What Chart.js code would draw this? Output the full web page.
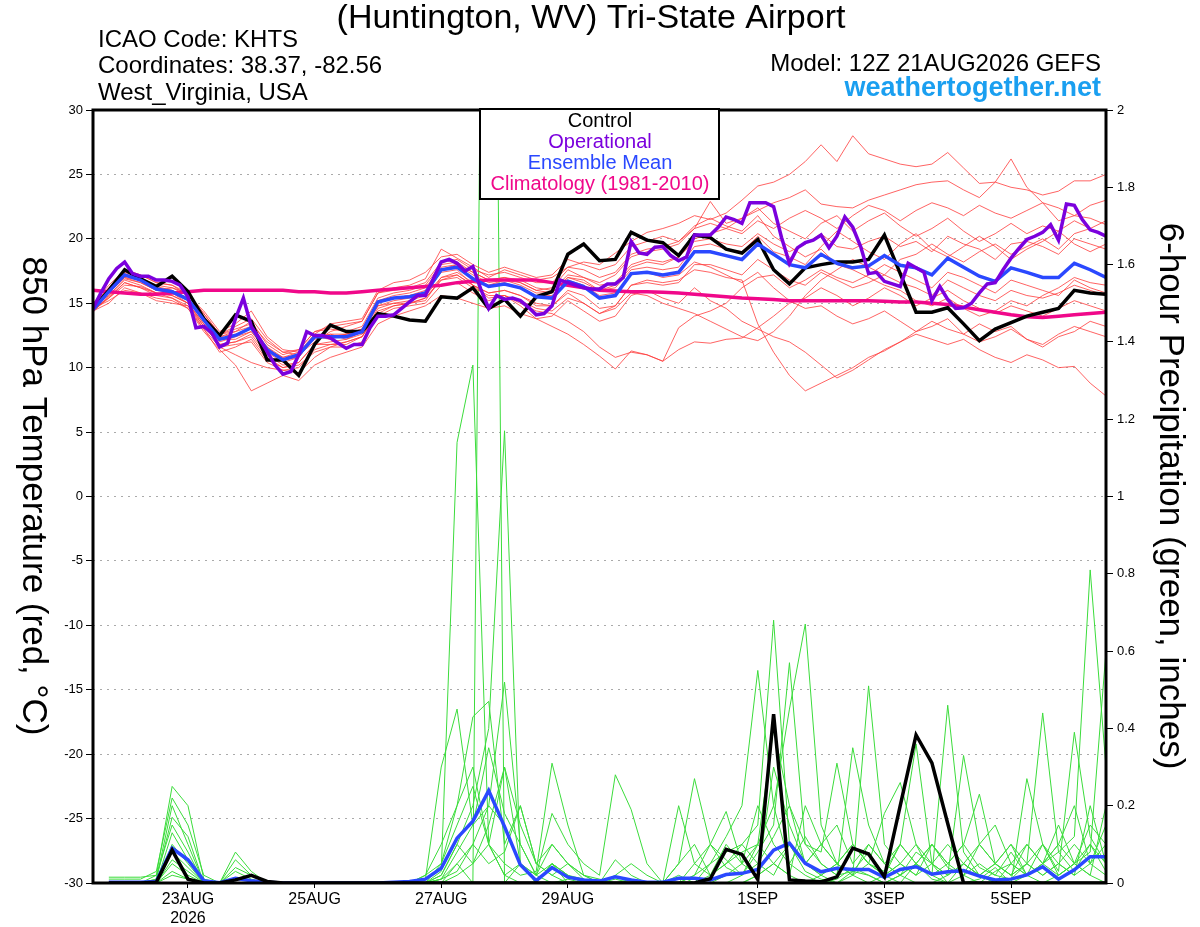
<!DOCTYPE html>
<html>
<head>
<meta charset="utf-8">
<script src="https://cdn.jsdelivr.net/npm/chart.js@4.4.1/dist/chart.umd.min.js"></script>
<style>
  html, body { margin: 0; padding: 0; background: #fff; }
  #wrap { width: 1200px; height: 927px; }
</style>
</head>
<body>
<div id="wrap"><canvas id="meteogram" width="1200" height="927"></canvas></div>
<script>
// x axis: forecast hour from 12Z 21AUG2026
var tickHours = [36, 84, 132, 180, 252, 300, 348];
var tickLabels = ["23AUG", "25AUG", "27AUG", "29AUG", "1SEP", "3SEP", "5SEP"];
var yearLabel = "2026";

// 850 hPa temperature, 6-hourly (control, mean, climatology)
var ctlTemp = [14.6,16.0,17.6,16.9,16.3,17.1,15.9,13.8,12.5,14.1,
  13.6,10.6,10.6,9.4,11.8,13.3,12.8,12.8,14.2,14.0,
  13.7,13.6,15.5,15.4,16.2,14.6,15.3,14.0,15.5,15.9,
  18.8,19.6,18.3,18.4,20.5,19.9,19.7,18.7,20.3,20.1,
  19.2,18.9,19.95,17.6,16.5,17.75,18.0,18.2,18.2,18.4,
  20.3,17.3,14.3,14.3,14.65,13.4,12.1,13.0,13.5,14.0,
  14.3,14.6,16.0,15.8,15.7];
var meanTemp = [14.5,15.9,17.2,16.8,16.1,15.9,15.3,13.7,12.2,12.5,
  13.1,11.4,10.6,11.0,12.4,12.4,12.4,12.8,15.1,15.4,
  15.5,15.8,17.6,17.8,16.9,16.3,16.5,16.2,15.5,15.4,
  16.7,16.3,15.4,15.6,17.3,17.4,17.2,17.4,19.0,19.0,
  18.7,18.4,19.6,18.8,18.0,17.75,18.8,18.1,17.75,17.9,
  18.7,17.95,17.75,17.2,18.5,17.8,17.1,16.7,17.75,17.4,
  17.0,17.0,18.1,17.6,17.0];
var climTemp = [16.0,15.9,15.8,15.7,15.7,15.8,15.9,16.0,16.0,16.0,
  16.0,16.0,16.0,15.9,15.9,15.8,15.8,15.9,16.0,16.1,
  16.2,16.3,16.4,16.6,16.7,16.8,16.8,16.8,16.8,16.6,
  16.4,16.2,16.0,15.95,15.9,15.9,15.85,15.8,15.7,15.6,
  15.5,15.4,15.35,15.3,15.2,15.2,15.2,15.2,15.2,15.2,
  15.15,15.1,15.1,15.0,14.9,14.7,14.5,14.3,14.1,13.95,
  13.9,14.0,14.1,14.2,14.3];

// operational run, 3-hourly
var opTemp = [14.6,15.8,16.9,17.7,18.2,17.3,17.1,17.1,16.8,16.8,
  16.7,16.4,15.5,13.1,13.2,12.7,11.6,11.9,13.8,15.4,
  13.2,12.3,11.25,10.2,9.5,9.7,11.0,12.8,12.5,12.5,
  12.3,11.9,11.5,11.8,11.8,13.1,14.0,14.0,14.1,14.6,
  15.1,15.6,15.6,16.9,18.2,18.4,18.1,17.5,17.85,16.1,
  14.6,15.6,15.3,15.4,15.2,14.7,14.1,14.2,14.8,16.8,
  16.6,16.4,16.2,16.1,16.1,16.5,16.5,17.0,19.8,18.9,
  18.8,19.35,19.4,18.7,18.3,18.6,20.3,20.3,20.3,20.9,
  21.7,21.5,21.2,22.8,22.8,22.8,22.5,20.1,18.1,19.3,
  19.7,19.9,20.3,19.3,20.2,21.7,20.9,19.4,17.3,17.4,
  16.7,16.5,16.3,18.1,17.75,17.4,15.2,16.3,15.3,14.6,
  14.65,15.0,15.8,16.5,16.6,17.6,18.5,19.25,19.95,20.2,
  20.5,21.1,19.9,22.7,22.6,21.5,20.7,20.5,20.2];

// 6-hour precipitation (inches), first step has no accumulation
var ctlPrecip = [null,0,0,0,0.002,0.085,0.01,0,0,0.008,
  0.02,0.004,0,0,0,0,0,0,0,0,
  0,0,0,0,0,0,0,0,0,0,
  0,0,0,0,0,0,0,0,0,0.011,
  0.087,0.074,0.009,0.437,0.008,0.005,0.003,0.016,0.09,0.075,
  0.016,0.2,0.383,0.311,0.154,0,0,0,0,0,
  0,0,0,0,0];
var meanPrecip = [null,0.002,0.002,0.002,0.004,0.09,0.06,0.006,0.001,0.012,
  0.006,0.002,0,0,0,0,0,0,0,0.002,
  0.004,0.01,0.038,0.116,0.16,0.239,0.146,0.047,0.006,0.04,
  0.015,0.008,0.005,0.016,0.008,0.002,0.002,0.012,0.012,0.008,
  0.022,0.025,0.035,0.085,0.103,0.051,0.029,0.038,0.035,0.035,
  0.015,0.035,0.042,0.023,0.029,0.032,0.018,0.008,0.01,0.021,
  0.042,0.01,0.034,0.068,0.068];

// ensemble members, temperature
var t01 = [14.8,15.6,16.9,16.6,16.0,16.2,15.6,14.2,12.6,13.0,13.4,12.0,11.2,11.0,12.0,12.8,13.2,13.6,15.8,16.2,
  16.4,16.9,19.2,18.5,17.8,17.0,17.6,17.2,16.8,17.0,17.8,18.2,18.0,18.9,19.8,20.5,20.8,21.2,21.8,21.5,
  22.0,23.0,24.1,24.4,25.0,26.0,27.3,26.0,28.0,26.6,26.2,25.8,25.6,25.8,26.7,25.5,24.3,24.4,24.0,23.8,
  23.4,23.7,24.5,24.5,25.0];
var t02 = [14.6,15.4,16.4,16.3,15.8,15.6,15.0,13.2,11.8,12.0,12.6,11.0,10.2,10.4,11.8,12.0,12.2,12.6,14.8,15.0,
  15.2,15.6,17.0,17.4,16.6,16.4,16.8,16.6,16.0,16.2,17.6,17.0,16.6,17.2,18.6,19.0,19.2,19.6,20.8,22.9,
  21.2,21.6,22.2,22.8,23.2,23.8,22.7,22.5,22.4,23.0,23.4,23.8,24.2,24.4,24.5,23.8,23.2,24.4,26.2,24.0,
  22.8,21.4,21.8,21.6,21.1];
var t03 = [14.4,15.0,16.2,15.8,15.4,15.2,14.6,12.8,11.4,10.2,8.2,8.8,9.4,9.0,10.2,10.8,11.2,11.6,13.4,14.0,
  14.4,14.8,15.6,15.4,15.0,14.6,14.8,14.2,13.8,14.0,15.2,14.4,13.6,14.0,15.6,16.0,15.4,15.0,16.2,15.2,
  14.6,13.6,13.0,12.4,12.0,11.2,10.2,9.2,9.8,10.6,11.4,12.0,12.6,12.2,11.8,12.2,11.4,10.8,10.4,11.0,
  10.6,10.0,10.1,8.8,7.8];
var t04 = [14.6,15.2,16.0,15.8,15.2,15.0,14.8,13.0,11.6,11.0,10.4,10.0,9.8,9.6,10.8,11.6,12.0,12.4,14.2,14.8,
  15.0,15.4,16.8,17.2,16.4,15.8,16.0,15.6,15.0,14.8,15.8,15.0,14.2,14.8,16.4,16.8,16.6,16.8,17.6,17.4,
  17.0,16.8,13.4,11.2,9.4,8.2,8.8,9.4,10.0,10.8,11.3,12.0,12.8,13.6,13.0,12.6,13.4,12.8,13.2,12.2,
  11.6,12.4,12.8,13.6,13.2];
var t05 = [14.5,16.0,17.4,17.0,16.4,16.2,15.8,14.2,12.6,12.8,13.6,11.8,11.0,11.4,12.8,13.0,12.8,13.2,15.4,15.8,
  16.0,16.4,18.0,18.2,17.4,16.8,17.0,16.8,16.2,16.0,17.2,17.0,16.4,16.6,18.0,18.4,18.2,18.6,19.8,20.0,
  19.6,19.4,20.4,19.6,19.0,19.6,20.4,19.4,19.2,19.8,20.2,19.4,19.8,19.0,20.2,19.6,19.2,18.4,19.6,19.8,
  19.4,18.8,20.0,19.6,19.2];
var t06 = [14.3,15.6,16.8,16.4,15.8,15.4,14.8,13.2,11.8,12.0,12.4,10.8,10.0,10.4,11.8,11.8,11.8,12.4,14.6,15.0,
  15.0,15.2,17.0,17.2,16.4,15.8,16.0,15.6,14.8,14.8,16.0,15.6,14.6,14.8,16.4,16.6,16.4,16.6,18.0,18.0,
  17.6,17.2,18.4,17.6,16.8,16.4,17.4,16.8,16.2,16.6,17.2,16.6,16.2,15.6,16.8,16.2,15.6,15.2,16.0,15.6,
  15.4,15.8,16.4,16.0,15.6];
var t07 = [15.0,16.4,17.6,17.2,16.6,16.4,15.6,14.4,12.8,13.4,14.4,12.4,11.4,11.2,12.6,13.4,13.6,13.8,16.0,16.6,
  16.8,17.4,18.6,18.8,18.0,17.4,17.8,17.4,17.0,17.2,18.4,18.0,17.6,18.0,19.4,19.8,20.2,19.8,21.0,21.6,
  21.0,20.6,21.8,20.2,19.4,18.6,19.2,18.0,17.6,17.0,16.4,16.0,15.2,14.8,15.4,14.6,14.0,14.4,15.2,14.8,
  15.6,16.2,17.0,16.6,16.4];
var t08 = [14.7,15.8,17.0,16.6,16.0,15.8,15.2,13.6,12.0,12.4,12.8,11.4,10.8,11.2,12.2,12.6,12.2,12.8,14.8,15.2,
  15.4,15.8,17.4,17.6,16.4,15.4,15.6,14.8,13.8,13.2,12.6,11.8,10.9,9.9,11.3,11.0,10.5,13.1,14.0,14.4,
  15.0,16.2,17.0,17.2,16.2,16.8,17.6,17.0,16.6,17.2,18.0,17.4,16.8,16.2,17.4,17.0,16.4,15.8,16.8,16.4,
  16.0,15.6,16.8,16.2,15.8];
var t09 = [14.4,15.4,16.6,16.2,15.6,15.4,14.6,13.0,11.2,11.6,12.2,10.6,10.0,10.2,11.2,11.6,11.6,12.0,14.0,14.6,
  14.8,15.0,16.4,16.6,15.8,15.2,15.6,15.2,14.6,14.4,15.4,15.0,14.2,14.6,15.8,15.6,15.0,14.6,14.2,13.6,
  13.0,12.4,12.1,12.8,14.0,15.6,16.8,17.6,18.4,17.8,17.2,18.4,18.8,19.6,18.8,18.2,19.0,19.6,18.8,19.4,
  20.0,19.2,20.4,20.8,21.4];
var t10 = [14.9,16.2,17.2,16.8,16.2,16.0,15.4,13.8,12.4,12.8,13.2,11.6,10.6,10.8,12.4,12.6,12.6,13.0,15.2,15.4,
  15.6,16.0,17.6,18.0,17.2,16.6,16.8,16.4,15.8,15.8,17.0,16.6,16.0,16.4,17.8,18.2,18.0,18.6,20.0,20.4,
  20.8,21.6,22.4,21.2,20.6,20.0,21.2,21.8,20.6,21.4,22.0,21.0,20.2,20.8,21.6,20.6,19.8,20.4,21.2,20.4,
  21.0,20.6,21.4,20.8,20.2];
var t11 = [14.6,15.8,17.0,16.8,16.2,15.8,15.0,13.4,12.2,12.2,12.8,11.2,10.4,10.8,12.4,12.2,12.6,13.0,15.0,15.4,
  15.6,15.8,17.6,17.8,17.0,16.4,16.6,16.2,15.6,15.6,16.8,16.4,15.6,15.8,17.2,17.4,17.0,17.2,18.2,17.8,
  17.2,16.6,17.4,16.2,15.2,14.6,14.8,14.0,13.4,13.8,14.4,13.6,12.8,13.2,13.8,12.6,12.0,12.4,13.0,12.2,
  11.8,12.6,13.2,12.8,12.4];
var t12 = [14.5,15.9,17.3,16.9,16.3,16.0,15.4,13.8,12.4,12.6,13.0,11.6,10.8,11.0,12.6,12.4,12.6,12.8,15.2,15.6,
  15.8,16.2,17.8,18.0,17.4,16.8,17.0,16.6,16.0,15.8,17.0,16.8,16.0,16.2,17.6,17.8,17.6,17.8,19.4,19.6,
  19.2,19.0,20.2,19.0,18.6,18.0,19.4,20.6,19.8,19.0,18.4,19.6,20.4,19.2,18.6,19.4,20.2,19.4,18.4,19.2,
  19.8,20.6,19.6,19.0,19.6];
var t13 = [14.4,15.5,16.6,16.2,15.8,15.6,15.0,13.4,11.6,11.8,12.0,10.4,9.8,10.0,11.4,11.8,12.0,12.4,14.4,14.8,
  15.0,15.4,16.8,17.0,16.2,15.6,15.6,15.0,14.4,14.2,13.6,12.8,11.6,10.8,11.2,11.0,10.5,11.4,12.0,11.9,
  12.2,12.3,13.1,14.0,15.0,15.4,16.2,15.6,14.8,15.4,16.2,15.6,14.8,15.4,16.0,15.2,14.6,14.2,14.8,14.4,
  14.0,14.6,15.2,14.8,14.4];
var t14 = [14.7,16.2,17.6,17.2,16.6,16.4,15.8,14.0,12.6,13.2,13.8,12.2,11.2,11.4,12.8,13.2,13.4,13.6,15.8,16.0,
  16.2,16.6,18.2,18.4,17.6,17.2,17.4,17.0,16.6,16.6,17.8,17.6,17.0,17.4,18.8,19.2,19.4,19.8,20.8,21.2,
  20.8,20.4,21.4,20.8,21.6,22.2,21.6,20.8,21.8,22.6,22.2,21.4,22.2,22.8,22.4,21.8,22.6,22.0,21.6,22.2,
  22.8,22.4,21.8,22.6,23.0];

// ensemble members, precipitation
var p01 = [null,0.015,0.015,0.015,0.02,0.25,0.2,0.01,0,0,0,0,0,0,0,0,0,0,0,0,
  0,0.02,0.05,0.2,0.3,0.1,0.02,0,0,0.05,0.02,0,0,0.01,0,0,0,0,0,0.05,
  0.12,0.2,0.55,0.2,0.05,0.02,0,0.01,0.04,0.02,0,0.02,0.05,0.01,0,0,0.01,0.04,0,0.27,
  0.1,0.02,0.05,0.1,0.03];
var p02 = [null,0.01,0.01,0.01,0.03,0.22,0.15,0.02,0,0.08,0.03,0,0,0,0,0,0,0,0,0,
  0,0,0.03,1.14,1.34,0.1,0.05,0.02,0.03,0.31,0.15,0.02,0,0,0,0,0,0,0,0.02,
  0.05,0.1,0.15,0.68,0.1,0.03,0.01,0,0.02,0.05,0.03,0.1,0.36,0.05,0,0.02,0,0.03,0.05,0.1,
  0.05,0.08,0.12,0.81,0.3];
var p03 = [null,0,0,0,0.01,0.2,0.1,0,0,0,0,0,0,0,0,0,0,0,0,0,
  0,0,0.01,0.05,0,4.5,0,0.05,0.02,0.1,0.05,0.01,0,0.06,0.02,0,0,0.05,0.27,0.1,
  0.04,0.02,0.08,0.15,0.57,0.1,0.05,0.02,0.03,0.08,0.02,0.05,0.02,0.1,0.04,0.02,0.05,0.02,0.01,0.05,
  0.44,0.08,0.03,0.1,0.05];
var p04 = [null,0,0,0,0.01,0.17,0.12,0,0,0.06,0.02,0,0,0,0,0,0,0,0,0,
  0,0,0.02,0.1,0.2,0.4,1.17,0.05,0,0.05,0.02,0,0,0,0.01,0,0,0,0.05,0.1,
  0.06,0.02,0.1,0.2,0.45,0.67,0.15,0.05,0.1,0.05,0.02,0.1,0.05,0.02,0.05,0.1,0.04,0.02,0.08,0.02,
  0.05,0.15,0.05,0.02,0.2];
var p05 = [null,0,0,0,0.02,0.15,0.08,0,0,0.04,0.02,0,0,0,0,0,0,0,0,0,
  0,0.01,0.3,0.45,0.15,0.2,0.52,0.1,0.02,0.18,0.1,0.05,0.02,0.28,0.19,0.05,0,0,0.02,0.05,
  0.08,0.1,0.05,0.12,0.2,0.1,0.08,0.31,0.1,0.05,0.18,0.26,0.1,0.05,0.02,0.33,0.1,0.05,0.02,0.05,
  0.1,0.03,0.39,0.12,0.05];
var p06 = [null,0,0,0,0,0.13,0.06,0,0,0.03,0.01,0,0,0,0,0,0,0,0,0,
  0,0.02,0.1,0.2,0.43,0.47,0.1,0.2,0.05,0.02,0.05,0.02,0,0.02,0.05,0.02,0,0.05,0.1,0.02,
  0.05,0.08,0.1,0.4,0.2,0.05,0.1,0.05,0.02,0.51,0.1,0.05,0.1,0.02,0.46,0.08,0.02,0.05,0.1,0.02,
  0.05,0.1,0.05,0.08,0.6];
var p07 = [null,0,0,0,0,0.1,0.05,0,0,0,0,0,0,0,0,0,0,0,0,0,
  0,0,0.05,0.15,0.25,0.1,0.3,0.15,0.05,0.1,0.05,0.02,0.01,0,0,0,0,0.2,0.05,0.02,
  0.1,0.05,0.2,0.1,0.05,0.12,0.05,0.02,0.35,0.15,0.05,0.1,0.05,0.1,0.05,0.02,0.1,0.05,0.02,0.05,
  0.02,0.05,0.1,0.05,0.15];
var p08 = [null,0,0,0,0,0.08,0.04,0,0,0,0,0,0,0,0,0,0,0,0,0,
  0,0,0,0.05,0.1,0.2,0.15,0.05,0,0.05,0.02,0.01,0,0,0,0,0,0,0.02,0.1,
  0.185,0.05,0.02,0.05,0.1,0.05,0.1,0.15,0.05,0.1,0.05,0.02,0.05,0.1,0.05,0.1,0.23,0.05,0.02,0.1,
  0.05,0.02,0.05,0.15,0.1];
var p09 = [null,0,0,0,0,0.06,0.03,0,0,0,0,0,0,0,0,0,0,0,0,0,
  0,0,0.02,0.1,0.05,0.15,0.3,0.05,0.02,0,0.01,0,0,0,0,0,0,0,0,0,
  0.02,0.05,0.1,0.05,0.02,0.2,0.1,0.05,0.02,0.1,0.05,0.02,0.08,0.05,0.02,0.05,0.1,0.15,0.05,0.02,
  0.1,0.05,0.02,0.2,0.05];
var p10 = [null,0,0,0,0,0.05,0.02,0,0,0,0,0,0,0,0,0,0,0,0,0,
  0,0,0.01,0.03,0.1,0.05,0.08,0.2,0.05,0.02,0,0,0,0,0,0,0,0,0,0,
  0,0.02,0.05,0.02,0.1,0.05,0.02,0.05,0.1,0.05,0.02,0.05,0.02,0.05,0.1,0.05,0.02,0.05,0.1,0.05,
  0.02,0.05,0.02,0.05,0.1];
var p11 = [null,0,0,0,0,0.03,0.01,0,0,0,0,0,0,0,0,0,0,0,0,0,
  0,0,0,0.02,0.05,0.1,0.02,0.05,0,0,0,0,0,0,0,0,0,0,0,0,
  0,0,0.02,0.05,0.02,0,0.02,0.05,0.02,0,0.02,0,0.05,0.02,0,0.05,0.02,0,0.05,0.02,
  0,0.02,0.05,0.02,0];
var p12 = [null,0,0,0,0,0.02,0.01,0,0,0,0,0,0,0,0,0,0,0,0,0,
  0,0,0.01,0.08,0.15,0.35,0.18,0.1,0.02,0.05,0,0,0,0,0,0,0,0.02,0,0,
  0,0,0.02,0.3,0.15,0.05,0.02,0,0.03,0.02,0,0.02,0,0,0.02,0.05,0.02,0,0,0.02,
  0.05,0.1,0.2,0.05,0.02];

var tempMembers = [t01,t02,t03,t04,t05,t06,t07,t08,t09,t10,t11,t12,t13,t14];
var precipMembers = [p01,p02,p03,p04,p05,p06,p07,p08,p09,p10,p11,p12];

var FONT = "'Liberation Sans', Arial, sans-serif";
var C_OP = '#7b00dd', C_MEAN = '#2a48ff', C_CLIM = '#f0088a';

function pts(arr, step) {
  return arr.map(function (v, i) { return { x: i * step, y: v }; });
}
function line(data, axis, color, width, order) {
  return { data: data, yAxisID: axis, borderColor: color, borderWidth: width,
    pointRadius: 0, tension: 0, fill: false, order: order };
}

var datasets = [];
precipMembers.forEach(function (p) { datasets.push(line(pts(p, 6), 'y2', '#3bdc3b', 1, 20)); });
tempMembers.forEach(function (t) { datasets.push(line(pts(t, 6), 'y', 'rgba(255,60,60,0.8)', 1, 10)); });
datasets.push(line(pts(meanPrecip, 6), 'y2', C_MEAN, 3.5, 6));
datasets.push(line(pts(ctlPrecip, 6), 'y2', '#000', 3.5, 5));
datasets.push(line(pts(climTemp, 6), 'y', C_CLIM, 3.5, 4));
datasets.push(line(pts(ctlTemp, 6), 'y', '#000', 3.5, 3));
datasets.push(line(pts(meanTemp, 6), 'y', C_MEAN, 3.5, 2));
datasets.push(line(pts(opTemp, 3), 'y', C_OP, 3.5, 1));

var decor = {
  id: 'decor',
  afterDatasetsDraw: function (chart) {
    var ctx = chart.ctx, a = chart.chartArea;
    ctx.save();
    // frame
    ctx.strokeStyle = '#000';
    ctx.lineWidth = 3;
    ctx.strokeRect(a.left, a.top, a.right - a.left, a.bottom - a.top);
    // legend box
    ctx.fillStyle = '#fff';
    ctx.fillRect(480, a.top - 1, 239, 90);
    ctx.lineWidth = 2;
    ctx.strokeRect(480, a.top - 1, 239, 90);
    ctx.font = '20px ' + FONT;
    ctx.textAlign = 'center';
    ctx.textBaseline = 'middle';
    var leg = [['Control', '#000'], ['Operational', C_OP], ['Ensemble Mean', C_MEAN], ['Climatology (1981-2010)', C_CLIM]];
    leg.forEach(function (l, i) {
      ctx.fillStyle = l[1];
      ctx.fillText(l[0], 600, 121 + i * 21.3);
    });
    ctx.restore();
  },
  afterDraw: function (chart) {
    var ctx = chart.ctx;
    ctx.save();
    ctx.fillStyle = '#000';
    ctx.textBaseline = 'middle';
    ctx.textAlign = 'center';
    ctx.font = '34px ' + FONT;
    ctx.fillText('(Huntington, WV) Tri-State Airport', 591, 19);
    ctx.textAlign = 'left';
    ctx.font = '24px ' + FONT;
    ctx.fillText('ICAO Code: KHTS', 98, 40);
    ctx.fillText('Coordinates: 38.37, -82.56', 98, 66);
    ctx.fillText('West_Virginia, USA', 98, 93);
    ctx.textAlign = 'right';
    ctx.fillText('Model: 12Z 21AUG2026 GEFS', 1101, 64);
    ctx.font = 'bold 27px ' + FONT;
    ctx.fillStyle = '#1a9ff0';
    ctx.fillText('weathertogether.net', 1101, 89);
    // axis titles, both read top to bottom
    ctx.fillStyle = '#000';
    ctx.textAlign = 'center';
    ctx.font = '35px ' + FONT;
    ctx.save();
    ctx.translate(33, 496);
    ctx.rotate(Math.PI / 2);
    ctx.fillText('850 hPa Temperature (red, \u00B0C)', 0, 0);
    ctx.restore();
    ctx.save();
    ctx.translate(1170, 496);
    ctx.rotate(Math.PI / 2);
    ctx.fillText('6-hour Precipitation (green, inches)', 0, 0);
    ctx.restore();
    ctx.restore();
  }
};

new Chart(document.getElementById('meteogram'), {
  type: 'line',
  data: { datasets: datasets },
  options: {
    responsive: false,
    animation: false,
    devicePixelRatio: 1,
    events: [],
    layout: { padding: { top: 110, left: 0, right: 0, bottom: 0 } },
    plugins: { legend: { display: false }, tooltip: { enabled: false } },
    scales: {
      x: {
        type: 'linear', min: 0, max: 384,
        afterBuildTicks: function (s) { s.ticks = tickHours.map(function (h) { return { value: h }; }); },
        afterFit: function (s) { s.height = 44; },
        ticks: {
          autoSkip: false, maxRotation: 0, padding: 2, color: '#000',
          font: { family: FONT, size: 16 }, lineHeight: 1.05,
          callback: function (v) {
            var i = tickHours.indexOf(v);
            return i === 0 ? [tickLabels[i], yearLabel] : tickLabels[i];
          }
        },
        grid: { drawOnChartArea: false, tickLength: 5, tickColor: '#000', tickWidth: 1 },
        border: { display: false }
      },
      y: {
        position: 'left', min: -30, max: 30,
        afterFit: function (s) { s.width = 93; },
        ticks: { stepSize: 5, padding: 3, color: '#000', font: { family: FONT, size: 13 } },
        grid: { color: '#aaa', lineWidth: 1, tickLength: 7, tickColor: '#000', tickWidth: 1 },
        border: { display: false, dash: [2, 5] }
      },
      y2: {
        position: 'right', min: 0, max: 2,
        afterFit: function (s) { s.width = 94; },
        ticks: { stepSize: 0.2, padding: 4, color: '#000', font: { family: FONT, size: 13 },
          callback: function (v) { return String(+v.toFixed(1)); } },
        grid: { drawOnChartArea: false, tickLength: 7, tickColor: '#000', tickWidth: 1 },
        border: { display: false }
      }
    }
  },
  plugins: [decor]
});
</script>
</body>
</html>
